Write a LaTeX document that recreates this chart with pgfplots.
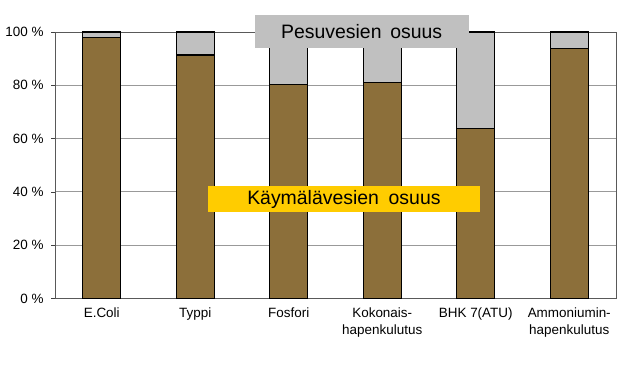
\documentclass[border=0pt]{standalone}
\usepackage{fontspec}
\setmainfont{Liberation Sans}
\usepackage{pgfplots}
\pgfplotsset{compat=1.18}
\definecolor{brownbar}{RGB}{140,111,58}
\definecolor{graybar}{RGB}{192,192,192}
\definecolor{yel}{RGB}{255,204,0}
\begin{document}
\begin{tikzpicture}
\path[use as bounding box] (0,0) rectangle (620bp,392bp);
\begin{axis}[at={(55bp,93.5bp)}, anchor=south west, scale only axis,
  width=561bp, height=266.5bp,
  ybar stacked, bar width=38bp,
  xmin=-0.5, xmax=5.5, ymin=0, ymax=100,
  clip=false,
  xtick={0,1,2,3,4,5},
  xticklabels={E.Coli, Typpi, Fosfori, {Kokonais-\\hapenkulutus}, BHK 7(ATU), {Ammoniumin-\\hapenkulutus}},
  xticklabel style={align=center, font=\fontsize{13.5}{16.5}\selectfont, yshift=-2bp},
  major x tick style={draw=none},
  extra x ticks={-0.5,0.5,1.5,2.5,3.5,4.5,5.5},
  extra x tick labels={},
  extra x tick style={major tick length=4bp, tick style={draw=gray!50!black, line width=0.8bp}},
  ytick={0,20,40,60,80,100},
  yticklabel={\pgfmathprintnumber{\tick}\ \%},
  yticklabel style={font=\fontsize{13.5}{15}\selectfont, xshift=-4bp},
  /pgf/number format/assume math mode=true,
  tick align=outside, tick pos=left,
  major tick length=4bp,
  ymajorgrids, grid style={draw=gray!80, line width=0.8bp},
  axis line style={draw=gray!70!black, line width=0.8bp},
  every tick/.style={draw=gray!50!black},
]
\addplot[fill=brownbar, draw=black, line width=1.4bp] coordinates {(0,98) (1,91.3) (2,80.3) (3,81) (4,63.8) (5,93.8)};
\addplot[fill=graybar, draw=black, line width=1.4bp] coordinates {(0,2) (1,8.7) (2,19.7) (3,19) (4,36.2) (5,6.2)};
\coordinate (pesu) at (axis cs:2.78,100.2);
\coordinate (kay) at (axis cs:2.59,37.3);
\end{axis}
\node[fill=graybar, minimum width=214bp, minimum height=33bp, inner sep=0pt, font=\fontsize{19.5}{21}\selectfont] at (pesu) {Pesuvesien\hspace{0.45em}osuus};
\node[fill=yel, minimum width=272bp, minimum height=26bp, inner sep=0pt, font=\fontsize{19.5}{21}\selectfont] at (kay) {Käymälävesien\hspace{0.5em}osuus};
\end{tikzpicture}
\end{document}
